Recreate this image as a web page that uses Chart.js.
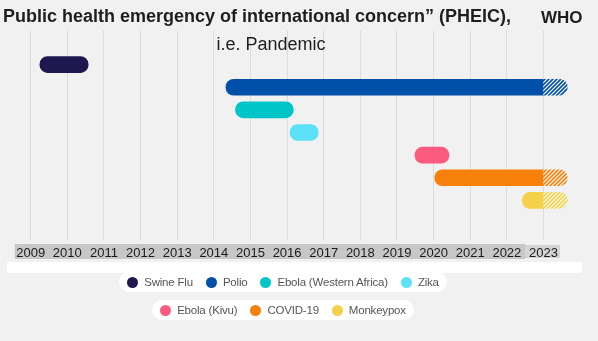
<!DOCTYPE html>
<html>
<head>
<meta charset="utf-8">
<script src="https://cdn.jsdelivr.net/npm/chart.js@4/dist/chart.umd.min.js"></script>
<style>
  html, body { margin: 0; padding: 0; background: #f1f1f1; }
  #wrap { position: relative; width: 598px; height: 341px; }
  #legend {
    position: absolute; left: 0; top: 272px; width: 566px;
    display: flex; flex-direction: column; align-items: center; gap: 8px;
    font-family: 'Liberation Sans', Arial, sans-serif; font-size: 11.5px; letter-spacing: -0.2px; color: #555;
  }
  .row { display: flex; align-items: center; gap: 13px; height: 20px; padding: 0 8px; background: #fff; border-radius: 10px; }
  .item { display: flex; align-items: center; gap: 6px; white-space: nowrap; }
  .dot { width: 11px; height: 11px; border-radius: 50%; }
</style>
</head>
<body>
<div id="wrap">
  <canvas id="pheicChart" width="598" height="341"></canvas>
  <div id="legend"></div>
</div>
<script>
// PHEIC declarations, start / end as fractional years
var diseases = ['Swine Flu', 'Polio', 'Ebola (Western Africa)', 'Zika', 'Ebola (Kivu)', 'COVID-19', 'Monkeypox'];
var starts   = [2009.25, 2014.33, 2014.59, 2016.08, 2019.49, 2020.03, 2022.42];
var ends     = [2010.57, 2023.0, 2016.17, 2016.85, 2020.42, 2023.0, 2023.0];
// still running: hatched part up to this point
var ongoing  = [null, 2023.65, null, null, null, 2023.65, 2023.65];
var colors   = ['#1f1850', '#0050aa', '#00c5c8', '#5de1f9', '#fd5a7f', '#f7800b', '#f5d14b'];
var years    = [2009, 2010, 2011, 2012, 2013, 2014, 2015, 2016, 2017, 2018, 2019, 2020, 2021, 2022, 2023];
// empty rows above and below the bars
var rows = [''].concat(diseases, [' ']);

function hatch(color) {
  var s = 4;
  var c = document.createElement('canvas');
  c.width = s; c.height = s;
  var g = c.getContext('2d');
  g.fillStyle = '#ffffff';
  g.fillRect(0, 0, s, s);
  g.strokeStyle = color;
  g.lineWidth = 1.6;
  g.beginPath();
  g.moveTo(-1, s + 1); g.lineTo(s + 1, -1);
  g.moveTo(-1, 1); g.lineTo(1, -1);
  g.moveTo(s - 1, s + 1); g.lineTo(s + 1, s - 1);
  g.stroke();
  return g.createPattern(c, 'repeat');
}

var datasets = diseases.map(function (name, i) {
  var pts = [{ x: [starts[i], ends[i]], y: name, open: false }];
  if (ongoing[i]) pts.push({ x: [ends[i], ongoing[i]], y: name, open: true });
  var pattern = hatch(colors[i]);
  return {
    label: name,
    data: pts,
    backgroundColor: function (ctx) { return ctx.raw && ctx.raw.open ? pattern : colors[i]; },
    borderRadius: function (ctx) {
      var r = 8;
      if (!ctx.raw) return r;
      if (ctx.raw.open) return { topLeft: 0, bottomLeft: 0, topRight: r, bottomRight: r };
      if (ongoing[i]) return { topLeft: r, bottomLeft: r, topRight: 0, bottomRight: 0 };
      return r;
    },
    borderSkipped: false,
    borderWidth: 0,
    barThickness: 16,
    grouped: false
  };
});

var decor = {
  id: 'decor',
  beforeDraw: function (chart) {
    var c = chart.ctx, x = chart.scales.x;
    c.save();
    c.fillStyle = '#f1f1f1';
    c.fillRect(0, 0, chart.width, chart.height);
    c.fillStyle = '#ffffff';
    c.fillRect(7, 262, 575, 11);
    // grey band behind the year labels
    var l = x.getPixelForValue(years[0]) - 16;
    var m = x.getPixelForValue(2022.5);
    var r = x.getPixelForValue(2023.45);
    c.fillStyle = '#c7c7c7';
    c.fillRect(l, 244, m - l, 15);
    c.fillStyle = '#d4d4d4';
    c.fillRect(m, 245, r - m, 13);
    c.restore();
  },
  afterDraw: function (chart) {
    var c = chart.ctx;
    c.save();
    c.fillStyle = '#1e1e1e';
    c.textBaseline = 'alphabetic';
    c.font = '18px "Liberation Sans", Arial, sans-serif';
    c.textAlign = 'center';
    c.fillText('i.e. Pandemic', 271, 50);
    c.font = 'bold 17px "Liberation Sans", Arial, sans-serif';
    c.textAlign = 'left';
    c.fillText('WHO', 541, 23);
    c.restore();
  }
};

var ctx = document.getElementById('pheicChart').getContext('2d');
var chart = new Chart(ctx, {
  type: 'bar',
  data: { labels: rows, datasets: datasets },
  options: {
    indexAxis: 'y',
    responsive: false,
    animation: false,
    layout: { padding: { left: 3, right: 23, top: 0, bottom: 75 } },
    scales: {
      x: {
        type: 'linear',
        min: 2008.244,
        max: 2023.86,
        afterBuildTicks: function (s) { s.ticks = years.map(function (v) { return { value: v }; }); },
        ticks: {
          color: '#1b1b1b',
          padding: 5,
          font: { family: "'Liberation Sans', Arial, sans-serif", size: 13 },
          callback: function (v) { return String(v); }
        },
        grid: { color: '#dcdcdc', lineWidth: 1, tickLength: 6, drawTicks: true },
        border: { display: false }
      },
      y: {
        type: 'category',
        display: false
      }
    },
    plugins: {
      legend: { display: false },
      tooltip: { enabled: false },
      title: {
        display: true,
        text: 'Public health emergency of international concern\u201d (PHEIC),',
        align: 'start',
        color: '#1e1e1e',
        font: { family: "'Liberation Sans', Arial, sans-serif", size: 18, weight: 'bold' },
        padding: { top: 6, bottom: 3 }
      }
    }
  },
  plugins: [decor]
});

// legend: two rows of pills
var legendRows = [[0, 1, 2, 3], [4, 5, 6]];
var box = document.getElementById('legend');
legendRows.forEach(function (idx) {
  var row = document.createElement('div');
  row.className = 'row';
  idx.forEach(function (i) {
    var item = document.createElement('div');
    item.className = 'item';
    var dot = document.createElement('span');
    dot.className = 'dot';
    dot.style.background = colors[i];
    var txt = document.createElement('span');
    txt.textContent = diseases[i];
    item.appendChild(dot);
    item.appendChild(txt);
    row.appendChild(item);
  });
  box.appendChild(row);
});
</script>
</body>
</html>
